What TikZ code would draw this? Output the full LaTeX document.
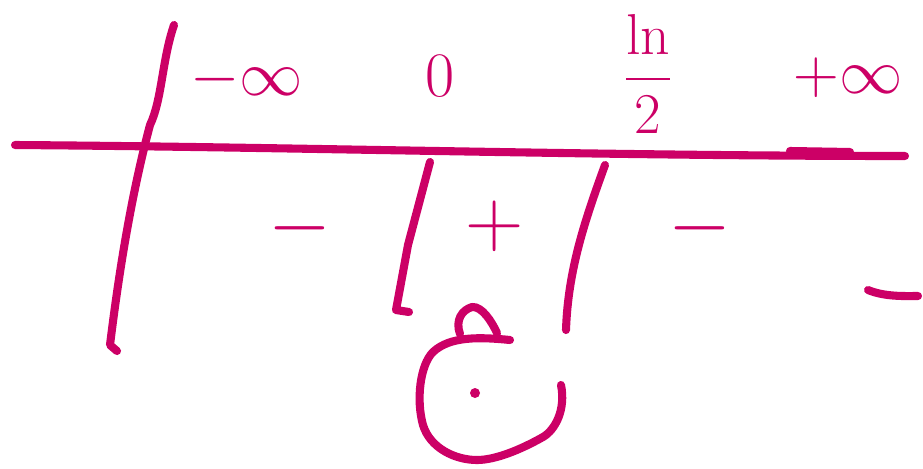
\documentclass[tikz,border=0pt]{standalone}
\usepackage{amsmath}
\usepackage{tikz}
\definecolor{Ink}{HTML}{CC0066}
\newcommand{\labtxt}[1]{\scalebox{1.45}{#1}}
\newcommand{\fractxt}[1]{\scalebox{1.32}{#1}}
\newcommand{\sgntxt}[1]{\scalebox{1.85}{#1}}

\begin{document}
\begin{tikzpicture}[x=0.02cm, y=-0.02cm,
          pen/.style={draw=Ink, line width=4.6pt, line cap=round, line join=round},
          lbl/.style={text=Ink, inner sep=0pt, font=\Huge}
        ]
          \useasboundingbox (0,0) rectangle (923,468);

          % axis and borders
          \draw[pen] (15,145) .. controls (300,147) and (600,156) .. (905,156);
          \draw[pen] (790,151) -- (850,152);
          \draw[pen] (174,25) .. controls (162,60) and (162,100) .. (150,125)
                     .. controls (130,200) and (118,280) .. (110,345) -- (117,351);
          \draw[pen] (430,162) -- (408,245) -- (396,310) -- (409,312);
          \draw[pen] (605,165) .. controls (585,220) and (568,270) .. (566,330);
          \draw[pen] (868,290) .. controls (885,297) and (905,296) .. (918,296);

          % values of x
          \node[lbl] (minf) at (247,80) {\labtxt{$-\infty$}};
          \node[lbl] (zero) at (440,76) {\labtxt{$0$}};
          \node[lbl] (half) at (648,74) {\fractxt{$\dfrac{\ln}{2}$}};
          \node[lbl] (pinf) at (848,78) {\labtxt{$+\infty$}};

          % signs
          \node[lbl] (s1) at (300,228) {\sgntxt{$-$}};
          \node[lbl] (s2) at (495,226) {\sgntxt{$+$}};
          \node[lbl] (s3) at (700,228) {\sgntxt{$-$}};

          % the little drawing under the table
          \draw[pen] (561,385) .. controls (566,410) and (555,430) .. (543,437)
                     .. controls (520,450) and (495,460) .. (477,460)
                     .. controls (455,460) and (430,448) .. (423,425)
                     .. controls (416,400) and (420,365) .. (433,352)
                     .. controls (450,336) and (480,337) .. (510,340);
          \draw[pen] (460,334) .. controls (455,320) and (462,310) .. (472,307)
                     .. controls (482,306) and (492,322) .. (497,333);
          \fill[Ink] (475,393) circle (5);
        \end{tikzpicture}
\end{document}
